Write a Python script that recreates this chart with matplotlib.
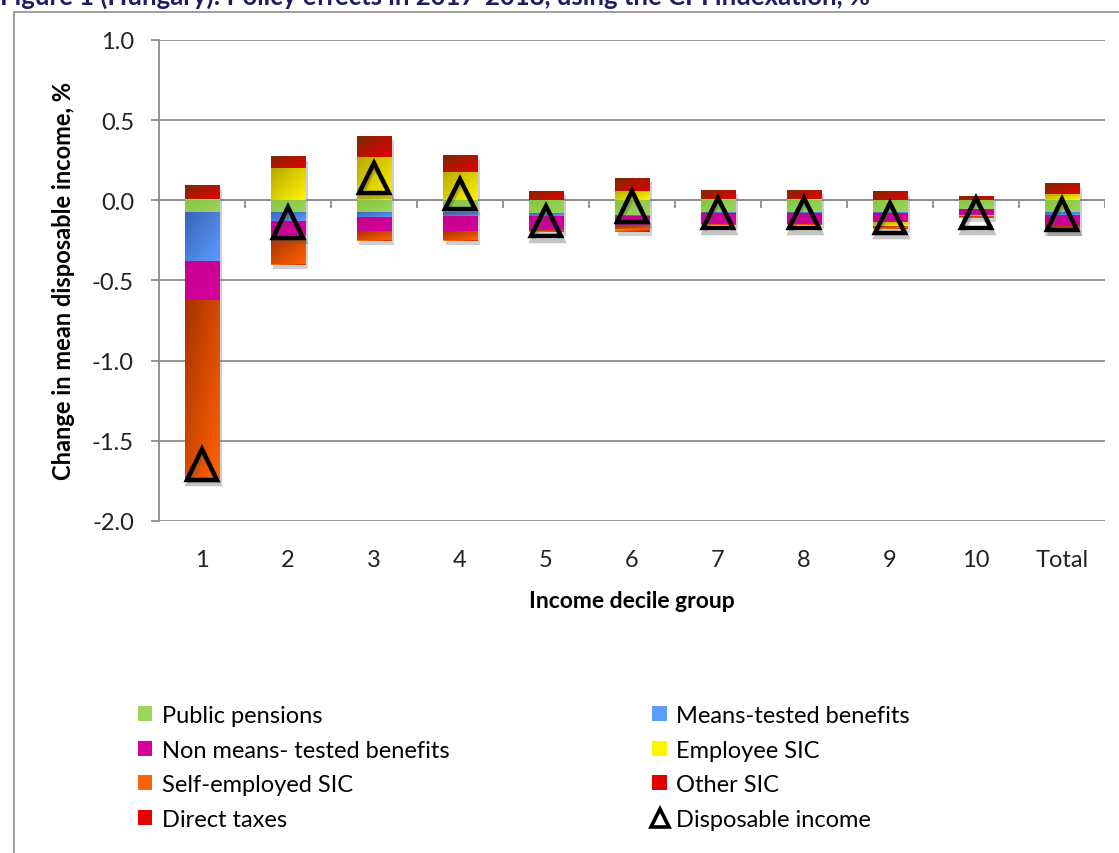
import numpy as np
import matplotlib
matplotlib.use("Agg")
import matplotlib.pyplot as plt
from matplotlib.patches import Patch, Rectangle
from matplotlib.lines import Line2D
from matplotlib.colors import LinearSegmentedColormap
import matplotlib.patheffects as pe

plt.rcParams['font.family'] = ['Lato', 'DejaVu Sans']

# ====== data ======
groups = ['1', '2', '3', '4', '5', '6', '7', '8', '9', '10', 'Total']
public_pensions = [-0.075, -0.075, -0.075, -0.080, -0.087, -0.090, -0.075, -0.075, -0.075, -0.056, -0.075]
means_tested    = [-0.310, -0.055, -0.035, -0.020, -0.013, -0.012, -0.012, -0.012, -0.005, -0.003, -0.018]
non_means       = [-0.240, -0.090, -0.090, -0.095, -0.090, -0.060, -0.063, -0.063, -0.055, -0.034, -0.067]
employee_sic    = [0.008, 0.200, 0.270, 0.175, 0.003, 0.060, 0.010, 0.010, -0.030, -0.010, 0.037]
self_emp_sic    = [-1.110, -0.180, -0.050, -0.055, -0.007, -0.020, -0.003, -0.003, -0.010, -0.003, -0.035]
other_sic       = [-0.003, -0.005, -0.003, -0.003, -0.003, -0.013, -0.002, -0.002, -0.005, -0.002, -0.005]
direct_taxes    = [0.085, 0.070, 0.130, 0.105, 0.053, 0.077, 0.052, 0.052, 0.050, 0.020, 0.063]
disposable      = [-1.65, -0.14, 0.14, 0.04, -0.13, -0.04, -0.08, -0.08, -0.11, -0.08, -0.09]

series = [
    ('Public pensions',            public_pensions, ('#86c440', '#9ad65a')),
    ('Means-tested benefits',      means_tested,    ('#3a64b8', '#5b9cff')),
    ('Non means- tested benefits', non_means,       ('#c4008e', '#d6009f')),
    ('Employee SIC',               employee_sic,    ('#b8a800', '#fff400')),
    ('Self-employed SIC',          self_emp_sic,    ('#a83200', '#ff6200')),
    ('Other SIC',                  other_sic,       ('#ffa000', '#e00000')),
    ('Direct taxes',               direct_taxes,    ('#7a2a00', '#e80000')),
]

fig = plt.figure(figsize=(11.19, 8.54), dpi=100)
ax = fig.add_axes([0.142, 0.389, 0.8455, 0.563])

x = np.arange(1, len(groups) + 1)
W = 0.4
grey = '#8c8c8c'

# diagonal gradient: dark top-left -> light bottom-right
gu, gv = np.meshgrid(np.linspace(0, 1, 30), np.linspace(0, 1, 30))
grad = (gu + gv) / 2.0

pos_base = np.zeros(len(groups))
neg_base = np.zeros(len(groups))
legend_handles = {}
for name, vals, (c0, c1) in series:
    vals = np.array(vals)
    bottoms = np.where(vals >= 0, pos_base, neg_base)
    bars = ax.bar(x, vals, W, bottom=bottoms, color=c1, linewidth=0, zorder=2,
                  path_effects=[pe.SimplePatchShadow(offset=(2, -3), shadow_rgbFace='#777777', alpha=0.35),
                                pe.Normal()])
    cmap = LinearSegmentedColormap.from_list(name, [c0, c1])
    for b in bars:
        x0, y0 = b.get_x(), b.get_y()
        w, h = b.get_width(), b.get_height()
        if abs(h) < 1e-9:
            continue
        ylo, yhi = min(y0, y0 + h), max(y0, y0 + h)
        ax.imshow(grad, cmap=cmap, extent=(x0, x0 + w, ylo, yhi), origin='upper', aspect='auto',
                  interpolation='bilinear', zorder=2.5)
    pos_base = pos_base + np.where(vals >= 0, vals, 0)
    neg_base = neg_base + np.where(vals < 0, vals, 0)
    legend_handles[name] = Patch(facecolor=c1, edgecolor='none')

ax.plot(x, disposable, linestyle='none', marker='^', markersize=22, markerfacecolor='none',
        markeredgecolor='black', markeredgewidth=3.2, zorder=4,
        path_effects=[pe.SimpleLineShadow(offset=(1, -3), shadow_color='#555555', alpha=0.35),
                      pe.Normal()])

# axes styling
ax.set_xlim(0.5, len(groups) + 0.5)
ax.set_ylim(-2.0, 1.0)
ax.set_yticks(np.arange(-2.0, 1.01, 0.5))
ax.set_yticklabels([f'{v:.1f}' for v in np.arange(-2.0, 1.01, 0.5)])
ax.yaxis.grid(True, color=grey, linewidth=1.3)
ax.set_axisbelow(True)
for s in ['top', 'right', 'bottom']:
    ax.spines[s].set_visible(False)
ax.spines['left'].set_color(grey)
ax.spines['left'].set_linewidth(1.3)
ax.tick_params(axis='y', colors=grey, length=6, width=1.3, labelsize=17, labelcolor='#222222', pad=12)
ax.set_xticks(x)
ax.set_xticklabels(groups)
ax.tick_params(axis='x', length=0, labelsize=17, labelcolor='#222222', pad=20)

# category axis at zero with tick marks pointing down
ax.axhline(0, color=grey, linewidth=1.3, zorder=1.5)
ax.vlines(np.arange(1.5, len(groups) + 1, 1.0), -0.05, 0, color=grey, linewidth=1.3, zorder=1.5)

ax.set_ylabel('Change in mean disposable income, %', fontsize=17, fontweight='bold', labelpad=12)
ax.set_xlabel('Income decile group', fontsize=16.5, fontweight='bold', labelpad=15)

# chart area border and (cut-off) figure title
fig.patches.append(Rectangle((14 / 1119, -0.05), 1.2, 1.05 - 13 / 854, transform=fig.transFigure,
                             fill=False, edgecolor=grey, linewidth=1.2))
fig.text(0.0, 1 - 5 / 854, 'Figure 1 (Hungary): Policy effects in 2017-2018, using the CPI indexation, %',
         fontsize=18.5, fontweight='bold', color='#1c1c6b', va='baseline', ha='left')

di_handle = Line2D([], [], linestyle='none', marker='^', markersize=13, markerfacecolor='none',
                   markeredgecolor='black', markeredgewidth=2.6)
order = ['Public pensions', 'Non means- tested benefits', 'Self-employed SIC', 'Direct taxes',
         'Means-tested benefits', 'Employee SIC', 'Other SIC']
handles = [legend_handles[n] for n in order] + [di_handle]
labels = order + ['Disposable income']
fig.legend(handles, labels, ncol=2, loc='upper left', bbox_to_anchor=(0.115, 0.184),
           frameon=False, fontsize=17, handlelength=0.6, handleheight=0.6, handletextpad=0.4,
           columnspacing=8.6, labelspacing=0.57, borderaxespad=0)

fig.savefig('out.png', dpi=100)
